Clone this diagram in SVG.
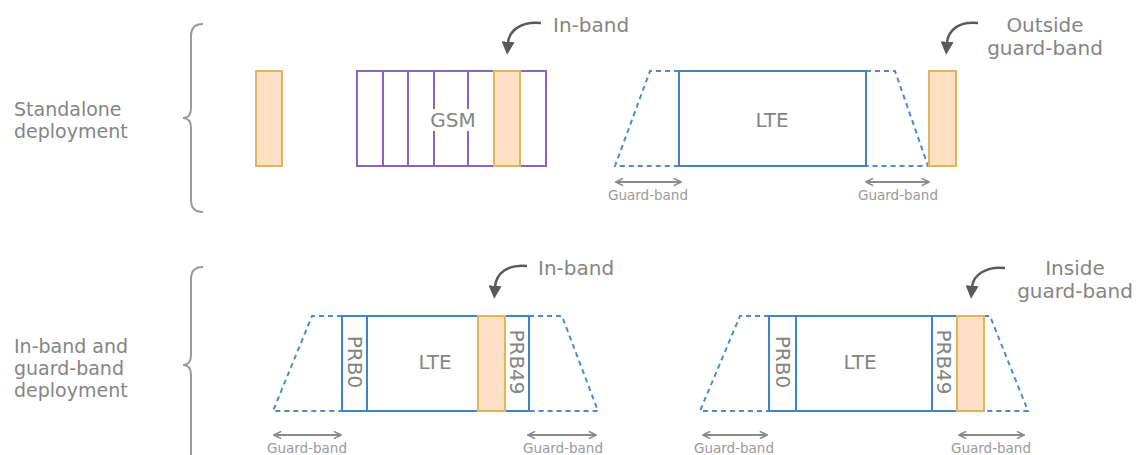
<svg xmlns="http://www.w3.org/2000/svg" width="1139" height="455" viewBox="0 0 1139 455">
  <style>
    .lbl { font-family: "DejaVu Sans", Verdana, sans-serif; font-size: 20px; fill: #858585; }
    .side { font-size: 19px; }
    .mid { text-anchor: middle; }
    .gb { font-family: "DejaVu Sans", Verdana, sans-serif; font-size: 13.5px; fill: #9a9a9a; text-anchor: middle; }
    .brace { fill: none; stroke: #9a9a9a; stroke-width: 2; }
    .gsm { fill: none; stroke: #8c62c9; stroke-width: 2; }
    .lte { fill: none; stroke: #4382c4; stroke-width: 2; }
    .edge { fill: none; stroke: #4f8bca; stroke-width: 2; stroke-dasharray: 5 4; }
    .nb { fill: #fde0c6; stroke: #e5b45a; stroke-width: 2; }
    .pointer { fill: none; stroke: #5a5a5a; stroke-width: 2.5; marker-end: url(#head); }
    .span { fill: none; stroke: #8a8a8a; stroke-width: 1.8; marker-start: url(#chev); marker-end: url(#chev); }
  </style>
  <defs>
    <marker id="head" viewBox="0 0 10 10" refX="1" refY="5" markerUnits="userSpaceOnUse" markerWidth="13" markerHeight="13" orient="auto">
      <path d="M0,0 L10,5 L0,10 z" fill="#5a5a5a"/>
    </marker>
    <marker id="chev" viewBox="0 0 10 10" refX="9" refY="5" markerUnits="userSpaceOnUse" markerWidth="9" markerHeight="9" orient="auto-start-reverse">
      <path d="M1,1 L9,5 L1,9" fill="none" stroke="#8a8a8a" stroke-width="1.8"/>
    </marker>
  </defs>
  <rect width="1139" height="455" fill="#ffffff"/>

  <!-- row labels and braces -->
  <g id="standalone-label">
    <text class="lbl side" x="14" y="116">Standalone</text>
    <text class="lbl side" x="14" y="138">deployment</text>
    <path class="brace" d="M203,24 Q191,24 191,36 L191,108 Q191,118 183,118 Q191,118 191,128 L191,200 Q191,212 203,212"/>
  </g>
  <g id="inband-label">
    <text class="lbl side" x="14" y="353">In-band and</text>
    <text class="lbl side" x="14" y="375">guard-band</text>
    <text class="lbl side" x="14" y="397">deployment</text>
    <path class="brace" d="M203,267 Q191,267 191,279 L191,355 Q191,365 183,365 Q191,365 191,375 L191,470"/>
  </g>

  <!-- standalone carrier -->
  <g id="standalone-carrier">
    <rect class="nb" x="256" y="71" width="26" height="95"/>
  </g>

  <!-- GSM channels with in-band carrier -->
  <g id="gsm">
    <rect class="gsm" x="357" y="71" width="189" height="95"/>
    <path class="gsm" d="M383,71 V166 M408,71 V166 M434,71 V109 M434,131 V166 M468,71 V109 M468,131 V166"/>
    <rect class="nb" x="494" y="71" width="26" height="95"/>
    <text class="lbl mid" x="453" y="127">GSM</text>
  </g>
  <g id="gsm-inband-note">
    <text class="lbl" x="553" y="32">In-band</text>
  </g>

  <!-- LTE with outside guard-band carrier -->
  <g id="lte-standalone">
    <path class="edge" d="M679,71 L650,71 L615,166 L679,166 M866,71 L895,71 L928,166 L866,166"/>
    <rect class="lte" x="679" y="71" width="187" height="95"/>
    <text class="lbl mid" x="772" y="127">LTE</text>
    <rect class="nb" x="929" y="71" width="27" height="95"/>
  </g>
  <g id="outside-note">
    <text class="lbl mid" x="1045" y="32">Outside</text>
    <text class="lbl mid" x="1045" y="55">guard-band</text>
  </g>

  <!-- LTE with in-band carrier -->
  <g id="lte-inband">
    <path class="edge" d="M342,316 L312,316 L273,411 L342,411 M529,316 L562,316 L598,411 L529,411"/>
    <rect class="lte" x="342" y="316" width="187" height="95"/>
    <path class="lte" d="M367,316 V411"/>
    <rect class="nb" x="478" y="316" width="27" height="95"/>
    <text class="lbl mid" transform="translate(355,362) rotate(90)" y="7">PRB0</text>
    <text class="lbl mid" x="435" y="369">LTE</text>
    <text class="lbl mid" transform="translate(517,362) rotate(90)" y="7">PRB49</text>
  </g>
  <g id="lte-inband-note">
    <text class="lbl" x="538" y="275">In-band</text>
  </g>

  <!-- LTE with inside guard-band carrier -->
  <g id="lte-guardband">
    <path class="edge" d="M769,316 L740,316 L700,411 L769,411 M984,316 L990,316 L1028,411 L984,411"/>
    <rect class="lte" x="769" y="316" width="188" height="95"/>
    <path class="lte" d="M796,316 V411 M932,316 V411"/>
    <rect class="nb" x="957" y="316" width="27" height="95"/>
    <text class="lbl mid" transform="translate(783,362) rotate(90)" y="7">PRB0</text>
    <text class="lbl mid" x="860" y="369">LTE</text>
    <text class="lbl mid" transform="translate(944,362) rotate(90)" y="7">PRB49</text>
  </g>
  <g id="inside-note">
    <text class="lbl mid" x="1075" y="275">Inside</text>
    <text class="lbl mid" x="1075" y="298">guard-band</text>
  </g>

  <!-- guard-band labels -->
  <g id="guard-labels">
    <text class="gb" x="648" y="200">Guard-band</text>
    <text class="gb" x="898" y="200">Guard-band</text>
    <text class="gb" x="307" y="453">Guard-band</text>
    <text class="gb" x="563" y="453">Guard-band</text>
    <text class="gb" x="734" y="453">Guard-band</text>
    <text class="gb" x="991" y="453">Guard-band</text>
  </g>

  <!-- connectors: pointers and span arrows -->
  <g id="connectors">
    <path class="pointer" d="M541,23 C522,21 509,30 508,43"/>
    <path class="pointer" d="M978,23 C959,21 948,30 947,43"/>
    <path class="pointer" d="M527,266 C508,264 496,273 495,287"/>
    <path class="pointer" d="M1005,268 C986,266 973,275 972,287"/>
    <path class="span" d="M616,182 H681"/>
    <path class="span" d="M866,182 H929"/>
    <path class="span" d="M274,435 H341"/>
    <path class="span" d="M528,435 H596"/>
    <path class="span" d="M703,435 H767"/>
    <path class="span" d="M959,435 H1024"/>
  </g>
</svg>
